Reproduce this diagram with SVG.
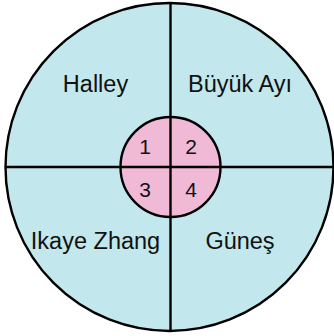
<svg xmlns="http://www.w3.org/2000/svg" width="334" height="336" viewBox="0 0 334 336">
<style>
.ring{stroke:#000;stroke-width:2.4}
.t{font-family:"Liberation Sans",Arial,sans-serif;font-size:23.5px;fill:#111;text-anchor:middle}
.n{font-family:"Liberation Sans",Arial,sans-serif;font-size:21px;fill:#111;text-anchor:middle}
</style>
<rect width="334" height="336" fill="#fff"/>
<g id="outer"><circle class="ring" cx="169.5" cy="167" r="164" fill="#c2e7ed"/></g>
<g id="inner"><circle class="ring" cx="170.5" cy="167" r="50" fill="#f0b9d5"/></g>
<g id="connectors">
<line class="ring" x1="170.5" y1="2" x2="170.5" y2="332"/>
<line class="ring" x1="5" y1="167" x2="334" y2="167"/>
</g>
<g id="halley"><text class="t" x="95.5" y="92">Halley</text></g>
<g id="buyuk-ayi"><text class="t" x="240" y="92">Büyük Ayı</text></g>
<g id="ikaye-zhang"><text class="t" x="95.5" y="249">Ikaye Zhang</text></g>
<g id="gunes"><text class="t" x="240" y="249">Güneş</text></g>
<g id="n1"><text class="n" x="145" y="154">1</text></g>
<g id="n2"><text class="n" x="191" y="154">2</text></g>
<g id="n3"><text class="n" x="145" y="197">3</text></g>
<g id="n4"><text class="n" x="191" y="197">4</text></g>
</svg>
